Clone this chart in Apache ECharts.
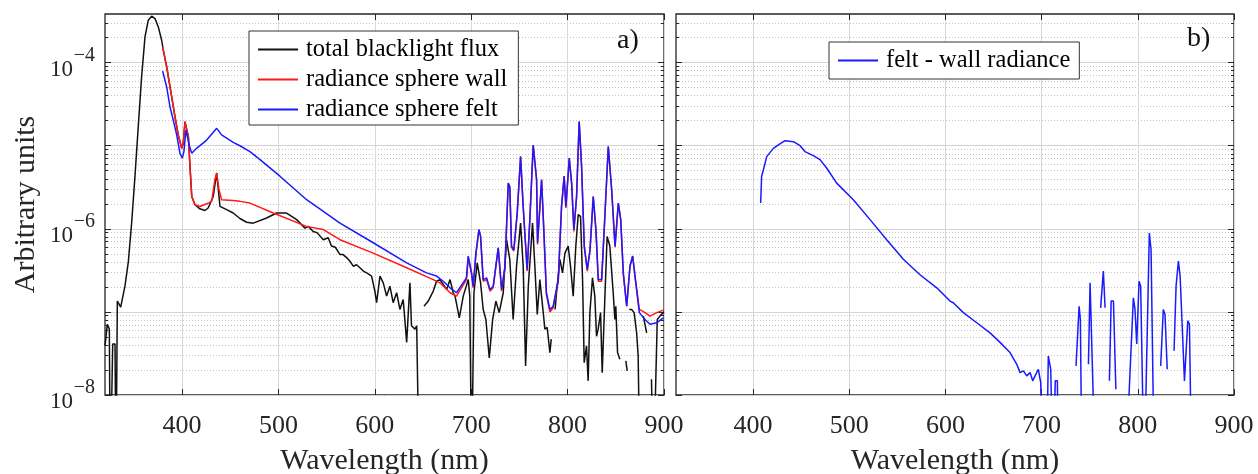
<!DOCTYPE html>
<html><head><meta charset="utf-8">
<script src="https://cdn.jsdelivr.net/npm/echarts@6/dist/echarts.min.js"></script>
<style>html,body{margin:0;padding:0;background:#fff}#c{width:1258px;height:474px}</style>
</head><body><div id="c"></div>
<script>
// ---- data (wavelength in nm, value in arbitrary units; null = gap, 1e-9 = below axis) ----
const xTicks = [400, 500, 600, 700, 800, 900];
const yMajorTicks = [1e-8, 1e-7, 1e-6, 1e-5, 1e-4];
const yLabelTicks = [1e-8, 1e-6, 1e-4];
const yMinorTicks = [2e-8,3e-8,4e-8,5e-8,6e-8,7e-8,8e-8,9e-8,2e-7,3e-7,4e-7,5e-7,6e-7,7e-7,8e-7,9e-7,2e-6,3e-6,4e-6,5e-6,6e-6,7e-6,8e-6,9e-6,2e-5,3e-5,4e-5,5e-5,6e-5,7e-5,8e-5,9e-5,2e-4,3e-4];

const blackWl = [320,322.4,324.5,325.5,328,330.4,331.4,332.8,336.3,340.7,344.2,347.7,351.1,354.5,358,361.5,364.9,368.4,371.9,375.3,378.8,380.5,384,388,392.6,396,399.6,401.2,403,404.7,406.5,408.2,410,413.4,418.4,423.7,427,432.3,435.9,439.3,446.2,453,460,467,473.8,487.7,498,508.4,518.9,527.5,531,536,540,546.5,551.6,555,559,563.8,567,570.7,574,577.6,581,584.5,588,591.5,596.6,600,601.8,605.3,608.7,612.2,615.6,619,622.6,626,629.4,633,636.4,638,641.6,643.4,646,648,651,655.4,660.6,664,667.5,671,674.5,678,681.3,683.2,687.6,691.7,696.9,698.5,700.4,702.8,706.2,709.7,712.4,715.2,718.7,722.2,725.6,729,733.2,736.6,740,743.5,747,751.2,753.9,756.4,759.2,763.6,766,768.5,771.2,774.7,776.4,778.8,781.6,783,785,787,788.5,792,794.7,797.2,800.6,803,805.8,808.5,811,813.4,815.5,817.2,819.6,821.3,823.1,825.8,828.2,830,831.7,834.2,835.9,838.7,841,843.8,847.3,849,850,851.8,854.2,856,860.4,861.8,862.8,863.9,866.4,869,871.6,873.2,875,876.5,878.5,882,884,887,889,891,893,895.8,899,900];
const blackVal = [3.9e-8,7.1e-8,6.2e-8,1e-9,4.1e-8,4.1e-8,1e-9,1.35e-7,1.14e-7,2.04e-7,4.0e-7,1.2e-6,4.3e-6,1.7e-5,6.8e-5,2.04e-4,3.24e-4,3.63e-4,3.39e-4,2.69e-4,1.86e-4,1.41e-4,8.9e-5,4.7e-5,2.24e-5,1.35e-5,9.3e-6,1.07e-5,1.95e-5,2.04e-5,1.29e-5,5.6e-6,2.45e-6,1.95e-6,1.74e-6,1.66e-6,1.78e-6,2.45e-6,4.7e-6,1.86e-6,1.7e-6,1.55e-6,1.33e-6,1.2e-6,1.17e-6,1.35e-6,1.55e-6,1.55e-6,1.29e-6,1.02e-6,1.07e-6,9.3e-7,9.0e-7,7.4e-7,7.8e-7,6.2e-7,6.0e-7,4.9e-7,4.9e-7,4.5e-7,4.1e-7,3.55e-7,3.7e-7,3.4e-7,3.1e-7,2.95e-7,2.7e-7,1.78e-7,1.29e-7,2.7e-7,2.24e-7,1.55e-7,2.04e-7,1.29e-7,1.7e-7,1.07e-7,1.41e-7,4.3e-8,2.24e-7,6.8e-8,6.2e-8,6.8e-8,1e-9,null,1.17e-7,1.35e-7,1.78e-7,2.34e-7,2.45e-7,2.14e-7,1.86e-7,2.45e-7,1.7e-7,1.55e-7,8.5e-8,1.55e-7,2.45e-7,1.55e-7,1e-9,1.7e-7,3.9e-7,2.24e-7,1.07e-7,8.1e-8,2.8e-8,8.1e-8,1.35e-7,9.8e-8,1.7e-7,7.4e-7,4.3e-7,8.1e-8,3.55e-7,1.17e-6,3.55e-7,2.24e-8,2.04e-7,1.17e-6,3.55e-7,9.3e-8,2.45e-7,9.8e-8,6.2e-8,6.5e-8,3.24e-8,4.7e-8,null,1.07e-7,1.7e-7,4.3e-7,2.95e-7,5.1e-7,6.2e-7,3.55e-7,1.55e-7,6.2e-7,1.48e-6,1.41e-6,2.45e-7,2.45e-8,3.9e-8,1.48e-8,9.8e-8,2.57e-7,1.55e-7,5.1e-8,6.2e-8,9.8e-8,1.86e-8,1.55e-7,8.1e-7,6.2e-7,1.7e-7,8.1e-8,1.17e-7,3.24e-8,2.7e-8,null,2.57e-8,1.95e-8,null,1.07e-7,1.07e-7,9.8e-8,5.6e-8,2.95e-8,1e-9,null,8.9e-8,5.6e-8,null,1.55e-8,1e-9,1e-9,8.1e-8,8.9e-8,9.8e-8,1.0e-7];

const wallWl = [379.8,384,388,392.6,396,399.6,401.2,403,404.7,406.5,408.2,410,413.4,418.4,425.5,430.7,434,435.9,438.3,441,453,460,470.4,494.6,529,546.5,563.8,598.3,633,660.6,667.5,678,684.7,695,696.9,700.4,702,704.9,708,709.7,712.4,716,719.4,722.8,728,731.5,735,738.4,740,741.8,744.2,747.7,751.2,753.9,758,760.8,764.3,767.8,768.8,773,775.3,778,781.6,785,786.8,790.3,793.7,796.4,798.2,801.7,804.2,806.5,809.3,812,814.5,817.3,820.4,823.2,826.6,829.4,831.8,835.3,838.8,842.2,845.7,849.2,852.6,855.1,857.8,861.3,864.7,867.5,869.9,874.4,880.3,885.5,892.4,899.3];
const wallVal = [1.55e-4,8.9e-5,4.7e-5,2.24e-5,1.35e-5,9.3e-6,1.07e-5,1.95e-5,2.04e-5,1.29e-5,5.6e-6,2.45e-6,1.95e-6,1.86e-6,2.0e-6,2.14e-6,3.9e-6,4.7e-6,2.95e-6,2.24e-6,2.19e-6,2.14e-6,2.04e-6,1.55e-6,1.07e-6,9.8e-7,7.4e-7,5.1e-7,3.4e-7,2.45e-7,2.24e-7,1.7e-7,1.55e-7,2.45e-7,4.5e-7,2.8e-7,1.95e-7,5.1e-7,9.8e-7,8.1e-7,2.34e-7,2.45e-7,1.78e-7,1.95e-7,5.9e-7,1.78e-7,3.4e-7,3.55e-6,3.1e-6,6.0e-7,5.4e-7,1.55e-6,7.4e-6,1.86e-6,3.1e-7,1.29e-6,1.02e-5,3.9e-6,6.5e-7,3.9e-6,9.3e-7,1.62e-7,1.0e-7,1.12e-7,1.12e-7,2.34e-7,1.86e-6,4.3e-6,1.78e-6,7.1e-6,3.4e-6,9.3e-7,2.45e-6,1.95e-5,5.6e-6,6.0e-7,3.1e-7,5.4e-7,2.45e-6,9.3e-7,2.34e-7,2.34e-7,1.55e-6,9.8e-6,2.95e-6,6.0e-7,2.04e-6,1.29e-6,2.8e-7,1.17e-7,3.55e-7,4.7e-7,2.7e-7,1.07e-7,9.8e-8,8.9e-8,9.8e-8,1.05e-7];

const feltWl = [379.8,384,387.4,390.8,394.4,397.8,400.2,401.9,404,405.4,407.5,410,415,425.5,435.9,441,453,460,470.4,480.8,501.5,529.2,563.8,598.3,633,653.6,664,671,678,684.7,695,696.9,700.4,702,704.9,708,709.7,712.4,716,719.4,722.8,728,731.5,735,738.4,740,741.8,744.2,747.7,751.2,753.9,758,760.8,764.3,767.8,768.8,773,775.3,778,781.6,785,786.8,790.3,793.7,796.4,798.2,801.7,804.2,806.5,809.3,812,814.5,817.3,820.4,823.2,826.6,829.4,831.8,835.3,838.8,842.2,845.7,849.2,852.6,855.1,857.8,861.3,864.7,867.5,869.9,874.4,880.3,885.5,892.4,899.3];
const feltVal = [7.9e-5,5.1e-5,2.95e-5,2.04e-5,1.35e-5,8.1e-6,7.1e-6,8.5e-6,1.55e-5,1.55e-5,1.0e-5,8.1e-6,9.3e-6,1.17e-5,1.62e-5,1.35e-5,1.1e-5,1.0e-5,8.5e-6,6.8e-6,4.3e-6,2.24e-6,1.17e-6,6.8e-7,3.9e-7,2.95e-7,2.7e-7,2.34e-7,1.95e-7,1.7e-7,2.57e-7,4.7e-7,2.95e-7,2.04e-7,5.1e-7,9.8e-7,8.1e-7,2.45e-7,2.57e-7,1.86e-7,2.04e-7,5.9e-7,1.86e-7,3.55e-7,3.55e-6,3.24e-6,6.2e-7,5.6e-7,1.55e-6,7.4e-6,1.86e-6,3.24e-7,1.29e-6,1.02e-5,3.9e-6,6.8e-7,3.9e-6,9.8e-7,1.7e-7,1.07e-7,1.17e-7,1.17e-7,2.45e-7,1.86e-6,4.3e-6,1.86e-6,7.1e-6,3.55e-6,9.8e-7,2.45e-6,1.95e-5,5.6e-6,6.2e-7,3.24e-7,5.6e-7,2.45e-6,9.8e-7,2.45e-7,2.45e-7,1.55e-6,9.8e-6,2.95e-6,6.2e-7,2.04e-6,1.29e-6,2.95e-7,1.17e-7,3.55e-7,4.7e-7,2.7e-7,9.8e-8,8.1e-8,7.1e-8,7.4e-8,8.5e-8];

const diffWl = [408,409,410.8,414.3,421.2,428,433.3,442,449,454,462.7,469.7,476.6,487,504.3,521.7,539,556.3,573.6,591,604.8,608.2,618.7,632.6,646.4,656.8,667.2,674.2,677.6,681.1,684.6,688,690.8,693.2,696.6,699.1,701,703,705,707,709.5,712,714.2,716.4,717.5,719,735.8,739,740.3,742,744,748.7,750.4,752.4,756,758,761.4,764.2,766,768,770.5,772.3,774.7,777.2,779,787,795.4,797.1,798.9,801.3,803,806.6,808.6,812,813.8,817.2,819,823.8,826.5,828.3,830.6,832,837.7,839.8,842.2,844,848.5,852,853.7,856];
const diffVal = [2.04e-6,4.3e-6,5.1e-6,7.4e-6,9.3e-6,1.05e-5,1.15e-5,1.12e-5,1.0e-5,8.5e-6,7.6e-6,6.8e-6,5.4e-6,3.55e-6,2.24e-6,1.29e-6,7.4e-7,4.3e-7,2.8e-7,1.95e-7,1.35e-7,1.29e-7,9.8e-8,7.4e-8,5.6e-8,4.3e-8,3.24e-8,2.34e-8,1.86e-8,1.95e-8,1.7e-8,1.86e-8,1.48e-8,1.7e-8,2.04e-8,1.41e-8,1e-9,null,1e-9,2.95e-8,2.04e-8,1e-9,1.48e-8,1.48e-8,1e-9,null,2.24e-8,1.17e-7,8.1e-8,1e-9,null,2.34e-8,2.24e-7,2.34e-7,1e-9,null,1.12e-7,3.1e-7,1.12e-7,null,1.48e-8,1.35e-7,1.35e-7,1.17e-8,null,1e-9,1.48e-7,1.07e-7,4.1e-8,2.34e-7,2.04e-7,1e-9,1e-9,8.9e-7,5.6e-7,1e-9,null,2.24e-8,1.07e-7,9.3e-8,2.04e-8,null,3.4e-8,2.04e-7,4.1e-7,2.7e-7,1.48e-8,7.8e-8,7.1e-8,1e-9];

const zip = (a, b) => a.map((x, i) => [x, b[i]]);

// ---- styles ----
const FONT = 'Liberation Serif';
const AX = '#262626';
const G0 = { left: 105, top: 14, width: 559, height: 381 };
const G1 = { left: 676, top: 14, width: 558, height: 381 };
const YMIN = 1e-8, YMAX = 3.85e-4;

function xAxes(gi) {
  return [{
    gridIndex: gi, type: 'value', min: 320, max: 900, position: 'bottom',
    axisLine: { show: false },
    axisTick: { show: true, inside: true, length: 6, customValues: xTicks, lineStyle: { color: AX } },
    axisLabel: { customValues: xTicks, fontFamily: FONT, fontSize: 26, color: AX, margin: 18 },
    splitLine: { show: true, lineStyle: { color: '#d9d9d9', width: 1 } },
    name: 'Wavelength (nm)', nameLocation: 'middle', nameGap: 51,
    nameTextStyle: { fontFamily: FONT, fontSize: 30, color: AX }
  }, {
    gridIndex: gi, type: 'value', min: 320, max: 900, position: 'top',
    axisLine: { show: false },
    axisTick: { show: true, inside: true, length: 6, customValues: xTicks, lineStyle: { color: AX } },
    axisLabel: { show: false }, splitLine: { show: false }
  }];
}
function yAxes(gi, labels) {
  const base = { gridIndex: gi, type: 'log', logBase: 10, min: YMIN, max: YMAX, axisLine: { show: false } };
  const major = (pos, lab, split) => Object.assign({}, base, {
    position: pos,
    axisTick: { show: true, inside: true, length: 6, customValues: yMajorTicks, lineStyle: { color: AX } },
    axisLabel: lab ? {
      show: true, customValues: yLabelTicks, margin: 10, align: 'right',
      // superscript on the first line, base "10" on the second line (shifted left by the exponent width)
      formatter: v => '{s|\u2212' + Math.abs(Math.round(Math.log10(v))) + '}\n{b|10}{g| }',
      rich: {
        s: { fontFamily: FONT, fontSize: 20, color: AX, lineHeight: 14, align: 'right' },
        b: { fontFamily: FONT, fontSize: 23, color: AX, lineHeight: 14, align: 'right' },
        g: { fontFamily: FONT, fontSize: 12, lineHeight: 14, width: 22, align: 'right' }
      }
    } : { show: false },
    splitLine: { show: split, lineStyle: { color: '#d4d4d4', width: 1 } },
    name: lab ? 'Arbitrary units' : '', nameLocation: 'middle', nameGap: 64,
    nameTextStyle: { fontFamily: FONT, fontSize: 30, color: AX }
  });
  const minor = (pos, split) => Object.assign({}, base, {
    position: pos,
    axisTick: { show: true, inside: true, length: 3, customValues: yMinorTicks, lineStyle: { color: AX } },
    axisLabel: { show: false },
    splitLine: { show: split, lineStyle: { color: '#c4c4c4', width: 1, type: [1, 2] } }
  });
  return [major('left', labels, true), minor('left', true), major('right', false, false), minor('right', false)];
}

const lineSeries = (name, data, color, xi, yi, z) => ({
  name, type: 'line', data, xAxisIndex: xi, yAxisIndex: yi, symbol: 'none', showSymbol: false,
  connectNulls: false, clip: true, z,
  lineStyle: { color, width: 1.5 }, itemStyle: { color }
});

const legendText = { fontFamily: FONT, fontSize: 24.5, color: '#000', lineHeight: 24, padding: [0, 0, 0, 3] };
const gridBase = { show: true, borderColor: AX, borderWidth: 1.3, backgroundColor: 'transparent', containLabel: false, outerBoundsMode: 'none' };

const option = {
  animation: false,
  backgroundColor: '#fff',
  grid: [Object.assign({}, gridBase, G0), Object.assign({}, gridBase, G1)],
  xAxis: [...xAxes(0), ...xAxes(1)],
  yAxis: [...yAxes(0, true), ...yAxes(1, false)],
  legend: [{
    data: ['total blacklight flux', 'radiance sphere wall', 'radiance sphere felt'],
    orient: 'vertical', left: 249, top: 31, icon: 'rect', itemWidth: 40, itemHeight: 2, itemGap: 5,
    padding: [6, 11, 3, 9], borderColor: '#333', borderWidth: 1, backgroundColor: '#fff',
    textStyle: legendText, selectedMode: false
  }, {
    data: ['felt - wall radiance'],
    orient: 'vertical', left: 829, top: 42, icon: 'rect', itemWidth: 40, itemHeight: 2,
    padding: [6, 9, 6, 9], borderColor: '#333', borderWidth: 1, backgroundColor: '#fff',
    textStyle: legendText, selectedMode: false
  }],
  graphic: [
    { type: 'text', left: 617, top: 27, z: 100, style: { text: 'a)', font: '28px "Liberation Serif"', fill: '#111' } },
    { type: 'text', left: 1187, top: 25, z: 100, style: { text: 'b)', font: '28px "Liberation Serif"', fill: '#111' } }
  ],
  series: [
    lineSeries('total blacklight flux', zip(blackWl, blackVal), '#111111', 0, 0, 2),
    lineSeries('radiance sphere wall', zip(wallWl, wallVal), '#ff1a1a', 0, 0, 3),
    lineSeries('radiance sphere felt', zip(feltWl, feltVal), '#1a1aff', 0, 0, 4),
    lineSeries('felt - wall radiance', zip(diffWl, diffVal), '#1a1aff', 2, 4, 4)
  ]
};

const chart = echarts.init(document.getElementById('c'), null, { renderer: 'canvas' });
chart.setOption(option);
</script></body></html>
